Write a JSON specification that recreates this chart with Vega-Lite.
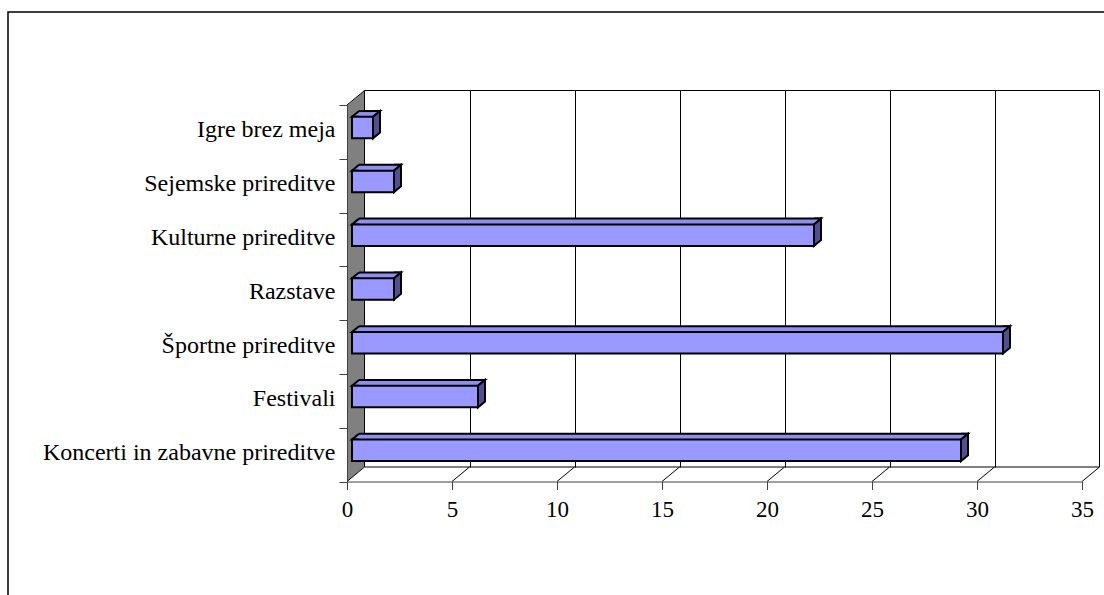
{
  "$schema": "https://vega.github.io/schema/vega-lite/v6.json",
  "width": 1096,
  "height": 583,
  "autosize": {"type": "none"},
  "padding": {"left": 8, "top": 12, "right": 0, "bottom": 0},
  "background": "white",
  "config": {
    "view": {"stroke": "black", "strokeWidth": 1.5, "strokeDash": [1096, 1679, 583]},
    "font": "Liberation Serif"
  },
  "datasets": {
    "prireditve": [
      {"prireditev": "Koncerti in zabavne prireditve", "stevilo": 29},
      {"prireditev": "Festivali", "stevilo": 6},
      {"prireditev": "Športne prireditve", "stevilo": 31},
      {"prireditev": "Razstave", "stevilo": 2},
      {"prireditev": "Kulturne prireditve", "stevilo": 22},
      {"prireditev": "Sejemske prireditve", "stevilo": 2},
      {"prireditev": "Igre brez meja", "stevilo": 1}
    ],
    "mreza": [
      {"vrednost": 0}, {"vrednost": 5}, {"vrednost": 10}, {"vrednost": 15},
      {"vrednost": 20}, {"vrednost": 25}, {"vrednost": 30}, {"vrednost": 35}
    ]
  },
  "layer": [
    {
      "data": {"values": [{}]},
      "layer": [
        {
          "mark": {"type": "rect", "fill": "#808080", "xOffset": -17.5, "y2Offset": 14.5},
          "encoding": {
            "x": {
              "datum": 0, "type": "quantitative",
              "scale": {"domain": [0, 35], "range": [356.5, 1091.5], "nice": false, "zero": false},
              "axis": {
                "orient": "top", "grid": true, "gridColor": "black", "gridWidth": 1,
                "values": [5, 10, 15, 20, 25, 30],
                "domain": false, "ticks": false, "labels": false, "title": null
              }
            },
            "x2": {"datum": 0},
            "y": {
              "datum": 0, "type": "quantitative",
              "scale": {"domain": [0, 1], "range": [455, 78.5], "nice": false, "zero": false},
              "axis": null
            },
            "y2": {"datum": 1}
          }
        },
        {
          "mark": {"type": "point", "shape": "M0,0L0,15L-17.5,15Z", "size": 4, "filled": true, "fill": "#808080", "strokeWidth": 0, "opacity": 1},
          "encoding": {
            "x": {"datum": 0, "type": "quantitative"},
            "y": {"datum": 1, "type": "quantitative"}
          }
        },
        {
          "mark": {"type": "point", "shape": "M0,-0.5L-17.5,-0.5L-17.5,14.5Z", "size": 4, "filled": true, "fill": "#808080", "strokeWidth": 0, "opacity": 1},
          "encoding": {
            "x": {"datum": 0, "type": "quantitative"},
            "y": {"datum": 0, "type": "quantitative"}
          }
        },
        {
          "mark": {"type": "rule", "color": "black", "strokeWidth": 1},
          "encoding": {
            "x": {"datum": 0, "type": "quantitative"},
            "x2": {"datum": 35},
            "y": {"datum": 1, "type": "quantitative"}
          }
        },
        {
          "mark": {"type": "rule", "color": "black", "strokeWidth": 1},
          "encoding": {
            "x": {"datum": 0, "type": "quantitative"},
            "x2": {"datum": 35},
            "y": {"datum": 0, "type": "quantitative"}
          }
        },
        {
          "mark": {"type": "rule", "color": "black", "strokeWidth": 1},
          "encoding": {
            "x": {"datum": 0, "type": "quantitative"},
            "y": {"datum": 0, "type": "quantitative"},
            "y2": {"datum": 1}
          }
        },
        {
          "mark": {"type": "rule", "color": "black", "strokeWidth": 1},
          "encoding": {
            "x": {"datum": 35, "type": "quantitative"},
            "y": {"datum": 0, "type": "quantitative"},
            "y2": {"datum": 1}
          }
        },
        {
          "mark": {"type": "rule", "color": "black", "strokeWidth": 1, "xOffset": -17.5, "yOffset": 14.5},
          "encoding": {
            "x": {"datum": 0, "type": "quantitative"},
            "x2": {"datum": 0},
            "y": {"datum": 1, "type": "quantitative"},
            "y2": {"datum": 1}
          }
        },
        {
          "data": {"name": "mreza"},
          "mark": {"type": "rule", "color": "black", "strokeWidth": 1, "xOffset": -17.5, "yOffset": 14.5},
          "encoding": {
            "x": {"field": "vrednost", "type": "quantitative"},
            "x2": {"field": "vrednost"},
            "y": {"datum": 0, "type": "quantitative"},
            "y2": {"datum": 0}
          }
        }
      ]
    },
    {
      "data": {"name": "prireditve"},
      "encoding": {
        "y": {
          "field": "prireditev", "type": "nominal",
          "scale": {
            "domain": ["Igre brez meja", "Sejemske prireditve", "Kulturne prireditve", "Razstave", "Športne prireditve", "Festivali", "Koncerti in zabavne prireditve"],
            "range": [93, 469.5], "paddingInner": 0, "paddingOuter": 0
          },
          "axis": {
            "orient": "left", "offset": -339, "tickBand": "extent", "tickSize": 8,
            "domainColor": "#404040", "tickColor": "#404040", "domainWidth": 1, "tickWidth": 1,
            "labelFont": "Liberation Serif", "labelFontSize": 24, "labelColor": "black",
            "labelPadding": 4, "labelOffset": -2, "labelLimit": 0, "title": null, "zindex": 1, "grid": false
          }
        }
      },
      "layer": [
        {
          "mark": {"type": "bar", "height": 6, "fill": "#8F8FEF", "strokeWidth": 0, "xOffset": 5, "x2Offset": 12, "yOffset": -17.95},
          "encoding": {
            "x": {
              "field": "stevilo", "type": "quantitative",
              "scale": {"domain": [0, 35], "range": [339, 1074], "nice": false, "zero": false},
              "axis": {
                "orient": "bottom", "offset": -113.5, "values": [0, 5, 10, 15, 20, 25, 30, 35],
                "grid": false, "tickSize": 8, "domainColor": "#404040", "tickColor": "#404040",
                "domainWidth": 1, "tickWidth": 1, "labelFlush": false,
                "labelFont": "Liberation Serif", "labelFontSize": 23, "labelColor": "black",
                "labelPadding": 9, "title": null, "zindex": 1
              }
            },
            "x2": {"datum": 0}
          }
        },
        {
          "mark": {"type": "rule", "color": "black", "strokeWidth": 2, "xOffset": 12, "x2Offset": 12, "yOffset": -20.85},
          "encoding": {
            "x": {"field": "stevilo", "type": "quantitative"},
            "x2": {"datum": 0}
          }
        },
        {
          "mark": {"type": "point", "shape": "M12,-15.05L5,-15.05L12,-20.85", "size": 4, "filled": true, "fill": "#8F8FEF", "stroke": "black", "strokeWidth": 2, "opacity": 1},
          "encoding": {
            "x": {"datum": 0, "type": "quantitative"}
          }
        },
        {
          "mark": {"type": "point", "shape": "M5,-20.85L12,-20.85L5,-15.05", "size": 4, "filled": true, "fill": "#8F8FEF", "stroke": "black", "strokeWidth": 2, "opacity": 1},
          "encoding": {
            "x": {"field": "stevilo", "type": "quantitative"}
          }
        },
        {
          "mark": {"type": "point", "shape": "M5,-15.05L12,-20.85L12,0.65L5,6.45Z", "size": 4, "filled": true, "fill": "#50508F", "stroke": "black", "strokeWidth": 2, "strokeJoin": "miter", "opacity": 1},
          "encoding": {
            "x": {"field": "stevilo", "type": "quantitative"}
          }
        },
        {
          "mark": {"type": "bar", "height": 21.5, "fill": "#9999FF", "stroke": "black", "strokeWidth": 2, "xOffset": 5, "x2Offset": 5, "yOffset": -4.3},
          "encoding": {
            "x": {"field": "stevilo", "type": "quantitative"},
            "x2": {"datum": 0}
          }
        }
      ]
    }
  ],
  "resolve": {
    "scale": {"x": "independent", "y": "independent"},
    "axis": {"x": "independent", "y": "independent"}
  }
}
